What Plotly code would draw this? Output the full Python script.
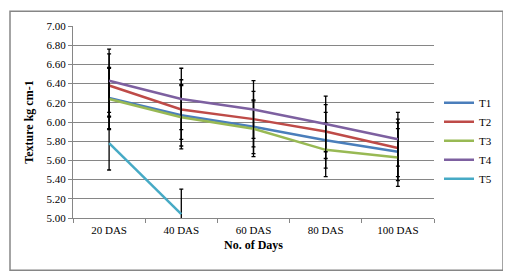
import plotly.graph_objects as go

categories = ["20 DAS", "40 DAS", "60 DAS", "80 DAS", "100 DAS"]
t1 = [6.25, 6.07, 5.95, 5.81, 5.69]
t2 = [6.38, 6.13, 6.03, 5.90, 5.73]
t3 = [6.24, 6.05, 5.93, 5.71, 5.63]
t4 = [6.43, 6.24, 6.13, 5.98, 5.82]
t5 = [5.78, 5.04, None, None, None]
e1 = [0.32, 0.32, 0.28, 0.29, 0.30]
e2 = [0.33, 0.31, 0.29, 0.28, 0.30]
e3 = [0.32, 0.33, 0.29, 0.28, 0.30]
e4 = [0.33, 0.32, 0.30, 0.29, 0.28]
e5 = [0.28, 0.26, None, None, None]
names = ["T1", "T2", "T3", "T4", "T5"]
colors = ["#4A7EBB", "#BE4B48", "#98B954", "#7D60A0", "#46AAC5"]
yticks = [5.0, 5.2, 5.4, 5.6, 5.8, 6.0, 6.2, 6.4, 6.6, 6.8, 7.0]

FONT = "Liberation Serif"
fig = go.Figure()
for name, ys, es, c in zip(names, [t1, t2, t3, t4, t5], [e1, e2, e3, e4, e5], colors):
    fig.add_trace(go.Scatter(
        x=categories, y=ys, name=name, mode="lines",
        line=dict(color=c, width=2.5),
        error_y=dict(type="data", array=es, visible=True, color="#000000",
                     thickness=1.3, width=2),
        connectgaps=False,
    ))

# page body has an 8px margin; work in page coords and shift
OFF = 8
L, R, T, B = 73 - OFF, 434 - OFF, 23 - OFF, 218 - OFF
W, H = 511 - OFF, 276 - OFF
pw, ph = R - L, B - T
def px(x):
    return (x - OFF - L) / pw
def py(y):
    return (B - (y - OFF)) / ph

fig.update_layout(
    width=W, height=H,
    margin=dict(l=L, r=W - R, t=T, b=H - B),
    paper_bgcolor="white", plot_bgcolor="white",
    font=dict(family=FONT, size=11, color="#000000"),
    showlegend=True,
    legend=dict(x=px(439), xanchor="left", y=py(139.5), yanchor="middle",
                font=dict(family=FONT, size=11, color="#000000"),
                bgcolor="rgba(0,0,0,0)", tracegroupgap=0, itemwidth=30),
    xaxis=dict(
        type="category", categoryorder="array", categoryarray=categories,
        range=[-0.5, 4.5], showgrid=False, showline=True, linecolor="#868686",
        linewidth=1, ticks="outside", tickson="boundaries", ticklen=4,
        tickcolor="#868686", tickfont=dict(family=FONT, size=11, color="#000000"),
        ticklabelstandoff=2,
        title=dict(text="<b>No. of Days</b>", font=dict(family=FONT, size=12, color="#000000"),
                   standoff=5),
        zeroline=False,
    ),
    yaxis=dict(
        range=[5.0, 7.0], tickvals=yticks, ticktext=["%.2f" % v for v in yticks],
        showgrid=True, gridcolor="#868686", gridwidth=1,
        showline=True, linecolor="#868686", linewidth=1,
        ticks="outside", ticklen=4, tickcolor="#868686",
        tickfont=dict(family=FONT, size=11, color="#000000"),
        title=dict(text="<b>Texture kg cm-1</b>", font=dict(family=FONT, size=12, color="#000000"),
                   standoff=10),
        zeroline=False,
    ),
    shapes=[dict(type="rect", xref="paper", yref="paper",
                 x0=px(10), x1=px(503), y0=py(271), y1=py(8),
                 line=dict(color="#868686", width=1.5), fillcolor="rgba(0,0,0,0)",
                 layer="below")],
)

fig.write_html("out.html")
